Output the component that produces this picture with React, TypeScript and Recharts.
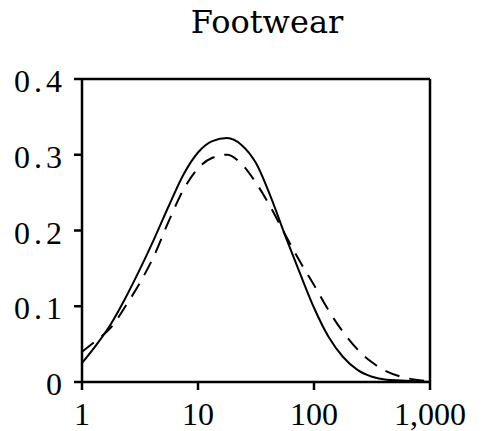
import React from 'react';
import { LineChart, Line, XAxis, YAxis, ReferenceLine } from 'recharts';

// x positions (log scale, eighth-decade steps) and the two curves
const sizes = [1, 1.33, 1.78, 2.37, 3.16, 4.22, 5.62, 7.5, 10, 13.3, 17.8, 23.7, 31.6, 42.2, 56.2, 75, 100, 133, 178, 237, 316, 422, 562, 750, 1000];
const solidValues = [0.025, 0.049, 0.077, 0.111, 0.149, 0.19, 0.233, 0.274, 0.303, 0.318, 0.322, 0.313, 0.289, 0.245, 0.194, 0.145, 0.098, 0.06, 0.033, 0.016, 0.007, 0.003, 0.002, 0.001, 0];
const dashedValues = [0.04, 0.055, 0.072, 0.1, 0.131, 0.168, 0.213, 0.254, 0.282, 0.296, 0.3, 0.288, 0.263, 0.231, 0.195, 0.16, 0.128, 0.095, 0.066, 0.043, 0.026, 0.014, 0.007, 0.003, 0.001];

const xTicks = [1, 10, 100, 1000];
const yTicks = [0, 0.1, 0.2, 0.3, 0.4];
const title = 'Footwear';

const data = sizes.map((x, i) => ({ x, solid: solidValues[i], dashed: dashedValues[i] }));

const FONT = 'Liberation Serif';

const XTick = (props: any) => {
  const { x, y, payload } = props;
  return (
    <text x={x} y={y} dy={25} textAnchor="middle" fontFamily={FONT} fontSize={32} fill="#000">
      {Number(payload.value).toLocaleString('en-US')}
    </text>
  );
};

const YTick = (props: any) => {
  const { x, y, payload } = props;
  const v = Number(payload.value);
  return (
    <text x={x} y={y} dy={13} textAnchor="end" fontFamily={FONT} fontSize={32} letterSpacing={4} fill="#000">
      {v === 0 ? '0' : v.toFixed(1)}
    </text>
  );
};

export default function App() {
  return (
    <div style={{ position: 'absolute', left: 0, top: 0, width: 484, height: 431, background: '#fff' }}>
      <svg width={484} height={60} style={{ position: 'absolute', left: 0, top: 0 }}>
        <text x={267} y={33} textAnchor="middle" fontFamily="DejaVu Serif" fontSize={32} fill="#000">
          {title}
        </text>
      </svg>
      <LineChart
        width={484}
        height={431}
        data={data}
        margin={{ top: 79, right: 54, bottom: 9, left: 10 }}
        style={{ position: 'absolute', left: 0, top: 0 }}
      >
        <XAxis
          dataKey="x"
          type="number"
          scale="log"
          domain={[1, 1000]}
          ticks={xTicks}
          allowDataOverflow
          height={40}
          stroke="#000"
          strokeWidth={2.5}
          tickSize={8}
          tickMargin={10}
          tick={<XTick />}
        />
        <YAxis
          type="number"
          domain={[0, 0.4]}
          ticks={yTicks}
          width={72}
          stroke="#000"
          strokeWidth={2.5}
          tickSize={8}
          tickMargin={8}
          tick={<YTick />}
        />
        <ReferenceLine y={0.4} stroke="#000" strokeWidth={2.5} />
        <ReferenceLine x={1000} stroke="#000" strokeWidth={2.5} />
        <Line
          dataKey="solid"
          type="monotone"
          stroke="#000"
          strokeWidth={2}
          dot={false}
          isAnimationActive={false}
        />
        <Line
          dataKey="dashed"
          type="monotone"
          stroke="#000"
          strokeWidth={2}
          strokeDasharray="15 10"
          dot={false}
          isAnimationActive={false}
        />
      </LineChart>
    </div>
  );
}
